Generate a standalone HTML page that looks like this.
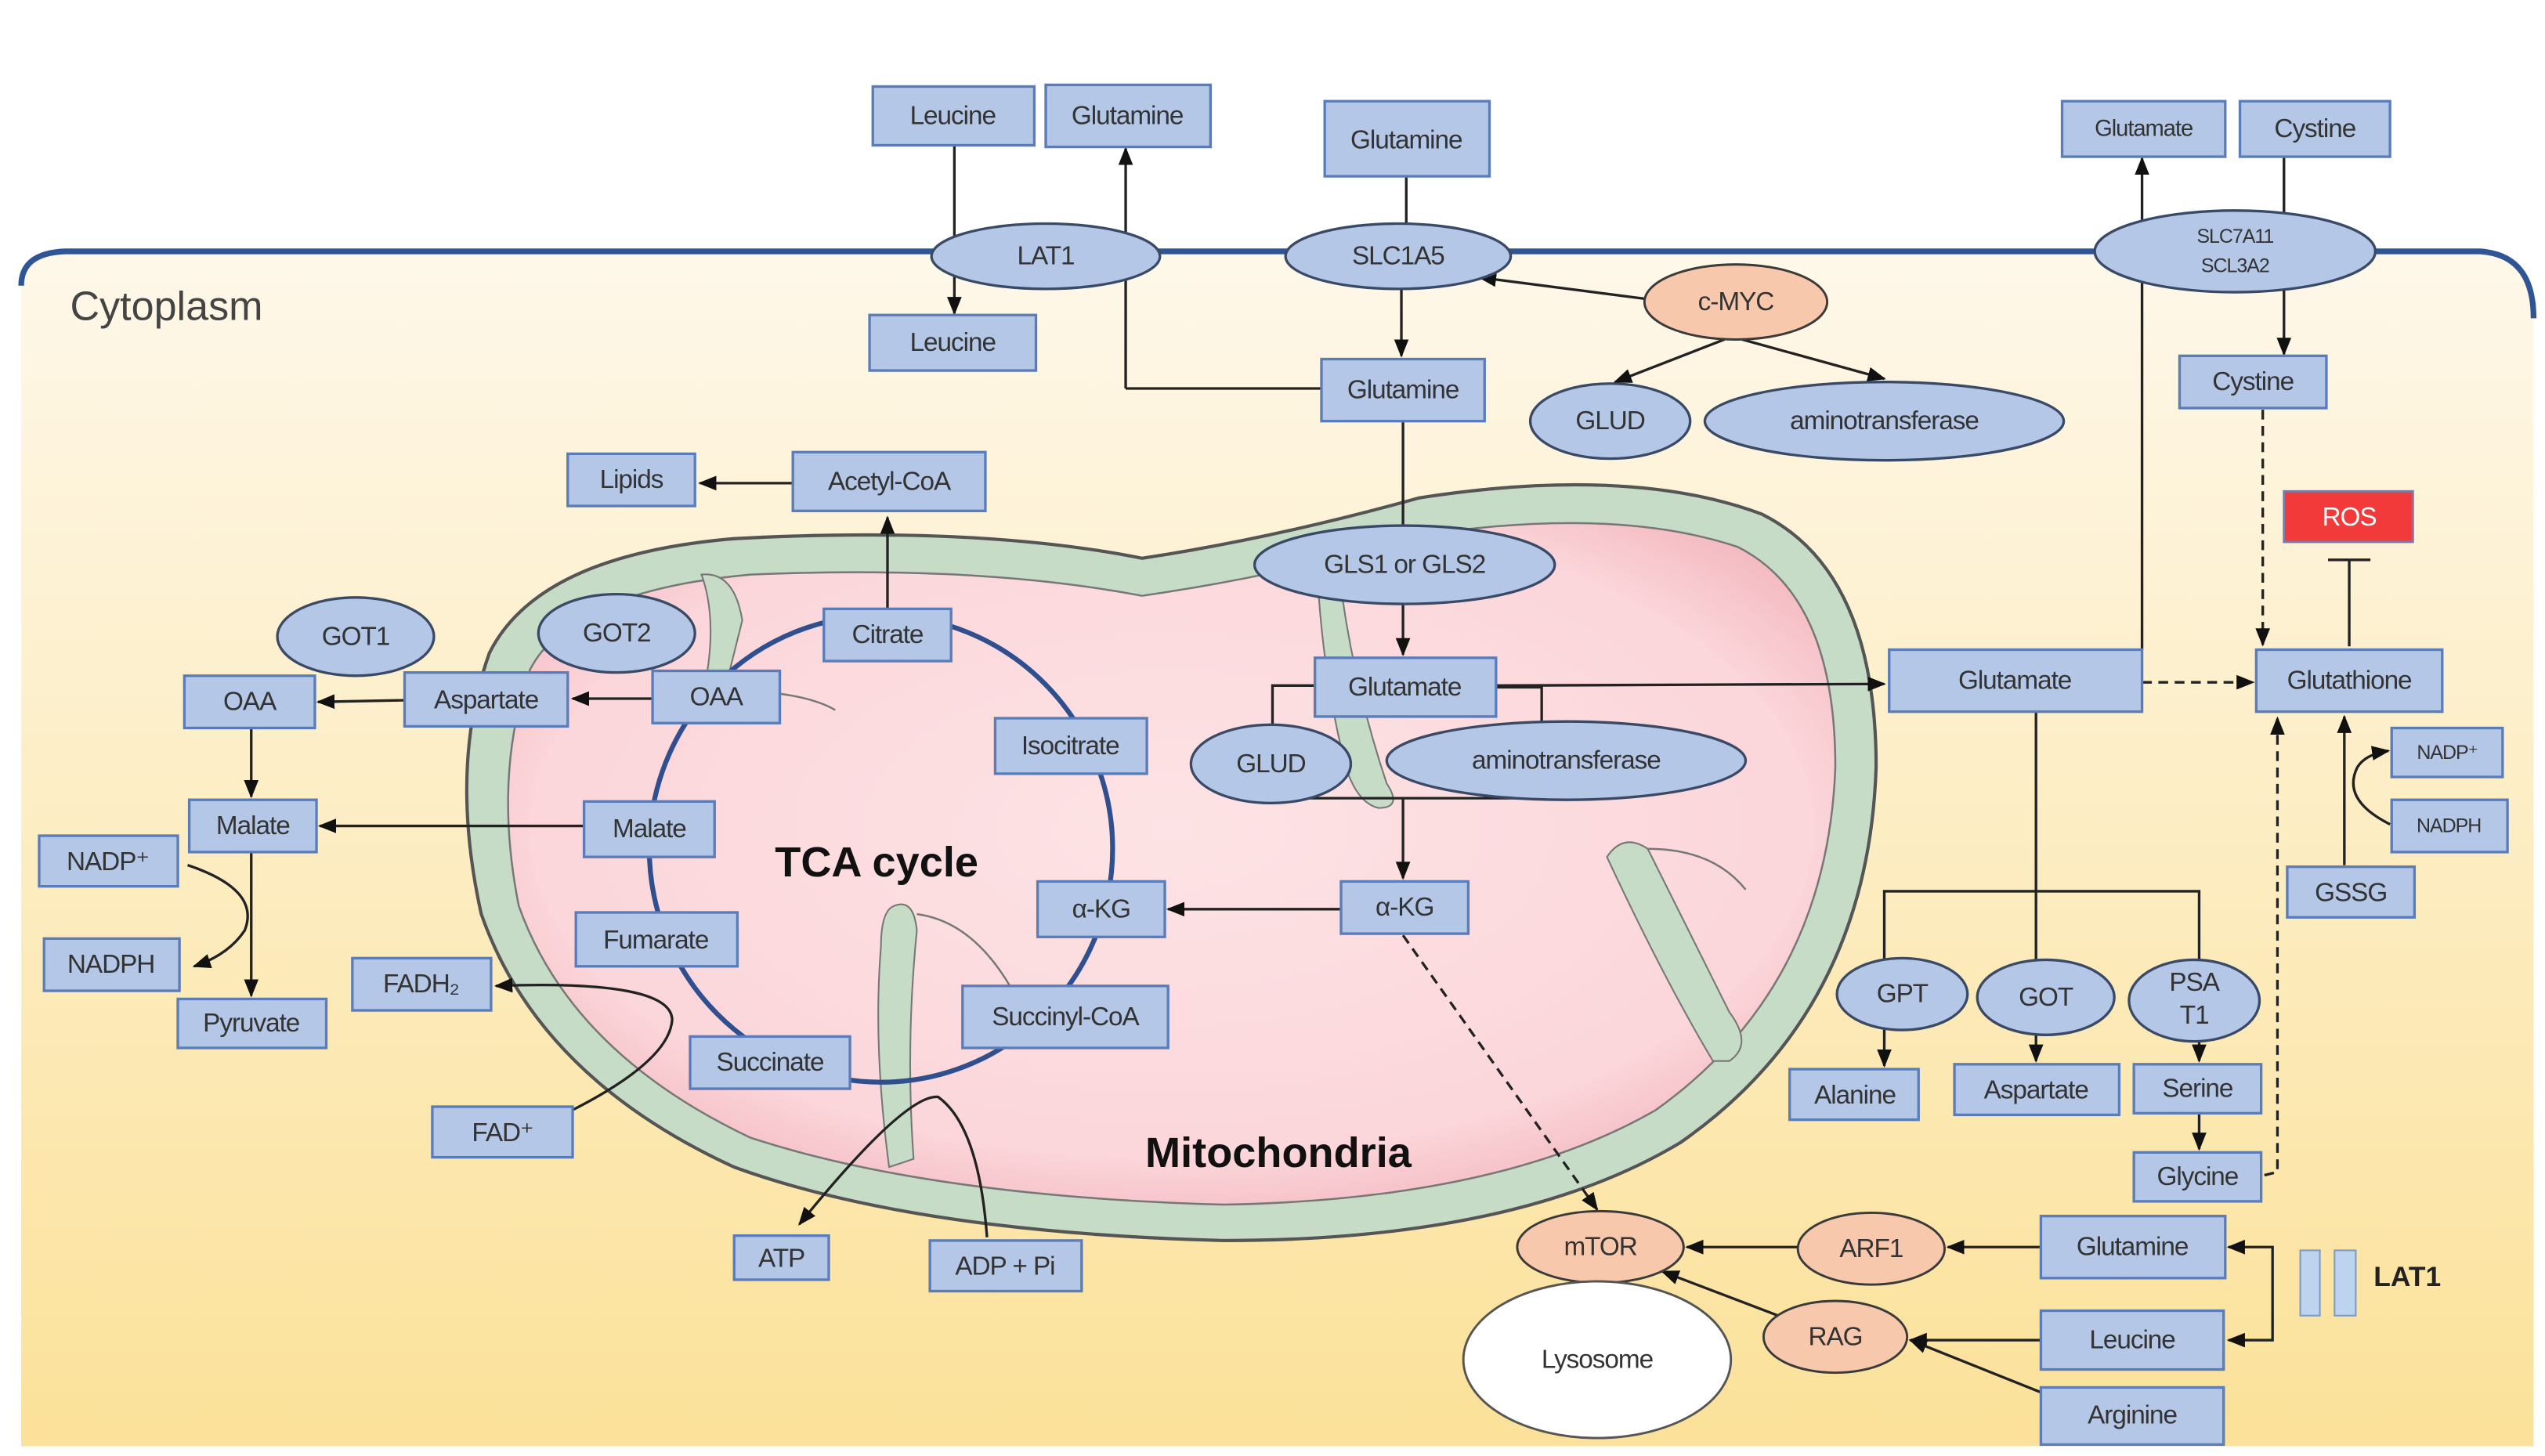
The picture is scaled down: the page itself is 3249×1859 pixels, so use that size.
<!DOCTYPE html>
<html><head><meta charset="utf-8"><style>
html,body{margin:0;padding:0;background:#fff;}
svg{display:block;}
text{font-family:"Liberation Sans","DejaVu Sans",sans-serif;fill:#333;}
.b{fill:#b4c7e7;stroke:#5a7cb8;stroke-width:1.6;}
.e{fill:#b4c7e7;stroke:#3a4a66;stroke-width:1.6;}
.p{fill:#f8c8ad;stroke:#3a3a3a;stroke-width:1.4;}
.l{stroke:#222;stroke-width:1.6;fill:none;}
.d{stroke:#222;stroke-width:1.6;fill:none;stroke-dasharray:6 4;}
.t{font-size:16px;text-anchor:middle;dominant-baseline:central;letter-spacing:-0.5px;}
</style></head><body>
<svg width="3249" height="1859" viewBox="0 0 1560 892" preserveAspectRatio="none" xmlns="http://www.w3.org/2000/svg">
<defs>
<linearGradient id="cy" x1="0" y1="0" x2="0" y2="1"><stop offset="0" stop-color="#fef8ea"/><stop offset="1" stop-color="#fbe199"/></linearGradient>
<radialGradient id="pk" cx="0.5" cy="0.45" r="0.6"><stop offset="0" stop-color="#fde3e5"/><stop offset="0.8" stop-color="#fbd6da"/><stop offset="1" stop-color="#f3b9c0"/></radialGradient>
<marker id="a" viewBox="0 0 10 10" refX="9" refY="5" markerWidth="7" markerHeight="7" orient="auto-start-reverse"><path d="M0,1 L10,5 L0,9 z" fill="#111"/></marker>
</defs>
<!-- cytoplasm -->
<path d="M13,175 Q13,155 40,154 L1520,154 Q1553,156 1553,195 L1553,886 L13,886 Z" fill="url(#cy)"/>
<path d="M13,175 Q13,155 40,154 L1520,154 Q1553,156 1553,195" fill="none" stroke="#2f5597" stroke-width="3.5"/>
<text x="43" y="196" style="font-size:25px;fill:#444">Cytoplasm</text>
<!-- mitochondria -->
<path d="M300,400 Q330,340 450,330 Q600,322 700,342 Q780,330 870,305 Q1000,285 1080,315 Q1150,350 1150,470 Q1145,620 1030,700 Q930,760 750,760 Q560,755 450,715 Q330,660 295,560 Q275,470 300,400 Z" fill="#c6dcc6" stroke="#555" stroke-width="2"/>
<path d="M325,410 Q350,362 460,352 Q600,346 700,365 Q790,352 870,328 Q990,310 1065,335 Q1125,365 1125,470 Q1120,605 1015,680 Q920,735 750,738 Q570,733 460,697 Q350,645 318,555 Q302,475 325,410 Z" fill="url(#pk)" stroke="#777" stroke-width="1.2"/>
<!-- cristae -->
<path d="M430,352 Q450,350 455,380 L445,420 L432,420 Q440,380 430,352 Z" fill="#c6dcc6" stroke="#777"/>
<path d="M808,360 L822,360 Q830,420 850,480 Q860,495 845,495 Q832,492 825,470 Q812,420 808,360 Z" fill="#c6dcc6" stroke="#777"/>
<path d="M548,555 Q560,550 562,570 Q555,640 560,710 L545,715 Q535,640 540,580 Q540,558 548,555 Z" fill="#c6dcc6" stroke="#777"/>
<path d="M562,560 Q600,565 625,615" fill="none" stroke="#777" stroke-width="1.2"/>
<path d="M985,525 Q995,510 1010,520 Q1040,580 1060,620 Q1075,640 1060,650 L1050,650 Q1020,600 985,525 Z" fill="#c6dcc6" stroke="#777"/>
<path d="M1010,520 Q1050,520 1070,545" fill="none" stroke="#777" stroke-width="1.2"/>
<path d="M478,425 Q500,428 512,435" fill="none" stroke="#777" stroke-width="1.2"/>
<!-- TCA circle -->
<ellipse cx="540" cy="520" rx="142" ry="143" fill="none" stroke="#2f4f8f" stroke-width="3"/>
<text x="475" y="537" style="font-size:26px;font-weight:bold;fill:#111">TCA cycle</text>
<text x="702" y="715" style="font-size:26px;font-weight:bold;fill:#111">Mitochondria</text>
<!-- connectors -->
<g>
<line class="l" x1="585" y1="89" x2="585" y2="192" marker-end="url(#a)"/>
<line class="l" x1="690" y1="238" x2="690" y2="91" marker-end="url(#a)"/>
<line class="l" x1="690" y1="238" x2="810" y2="238"/>
<line class="l" x1="862" y1="108" x2="862" y2="140"/>
<line class="l" x1="859" y1="177" x2="859" y2="218" marker-end="url(#a)"/>
<line class="l" x1="1008" y1="183" x2="907" y2="170" marker-end="url(#a)"/>
<line class="l" x1="1057" y1="208" x2="990" y2="234" marker-end="url(#a)"/>
<line class="l" x1="1068" y1="208" x2="1155" y2="232" marker-end="url(#a)"/>
<line class="l" x1="860" y1="258" x2="860" y2="322"/>
<line class="l" x1="860" y1="370" x2="860" y2="401" marker-end="url(#a)"/>
<line class="l" x1="917" y1="420" x2="1155" y2="419" marker-end="url(#a)"/>
<polyline class="l" points="806,420 780,420 780,444"/>
<polyline class="l" points="917,421 945,421 945,444"/>
<line class="l" x1="790" y1="489" x2="945" y2="489"/>
<line class="l" x1="860" y1="489" x2="860" y2="538" marker-end="url(#a)"/>
<line class="l" x1="822" y1="557" x2="716" y2="557" marker-end="url(#a)"/>
<line class="d" x1="860" y1="573" x2="979" y2="741" marker-end="url(#a)"/>
<line class="l" x1="544" y1="373" x2="544" y2="317" marker-end="url(#a)"/>
<line class="l" x1="486" y1="296" x2="429" y2="296" marker-end="url(#a)"/>
<line class="l" x1="400" y1="428" x2="351" y2="428" marker-end="url(#a)"/>
<line class="l" x1="248" y1="429" x2="195" y2="430" marker-end="url(#a)"/>
<line class="l" x1="154" y1="446" x2="154" y2="488" marker-end="url(#a)"/>
<line class="l" x1="358" y1="506" x2="196" y2="506" marker-end="url(#a)"/>
<line class="l" x1="154" y1="522" x2="154" y2="610" marker-end="url(#a)"/>
<path class="l" d="M115,530 Q160,545 150,570 Q140,585 119,592" marker-end="url(#a)"/>
<path class="l" d="M351,680 Q410,650 412,625 Q412,600 304,604" marker-end="url(#a)"/>
<path class="l" d="M605,758 Q600,690 575,672 Q555,670 490,750" marker-end="url(#a)"/>
<line class="l" x1="1313" y1="398" x2="1313" y2="97" marker-end="url(#a)"/>
<line class="l" x1="1400" y1="96" x2="1400" y2="217" marker-end="url(#a)"/>
<line class="d" x1="1387" y1="251" x2="1387" y2="395" marker-end="url(#a)"/>
<line class="d" x1="1313" y1="418" x2="1381" y2="418" marker-end="url(#a)"/>
<line class="l" x1="1440" y1="396" x2="1440" y2="343"/>
<line class="l" x1="1427" y1="343" x2="1453" y2="343"/>
<line class="l" x1="1437" y1="530" x2="1437" y2="439" marker-end="url(#a)"/>
<path class="l" d="M1465,505 Q1435,490 1445,470 Q1450,462 1464,460" marker-end="url(#a)"/>
<polyline class="d" points="1388,720 1396,718 1396,440" marker-end="url(#a)"/>
<line class="l" x1="1248" y1="436" x2="1248" y2="546"/>
<polyline class="l" points="1155,590 1155,546 1348,546 1348,590"/>
<line class="l" x1="1248" y1="546" x2="1248" y2="590"/>
<line class="l" x1="1155" y1="630" x2="1155" y2="653" marker-end="url(#a)"/>
<line class="l" x1="1248" y1="634" x2="1248" y2="650" marker-end="url(#a)"/>
<line class="l" x1="1348" y1="636" x2="1348" y2="650" marker-end="url(#a)"/>
<line class="l" x1="1348" y1="682" x2="1348" y2="704" marker-end="url(#a)"/>
<line class="l" x1="1251" y1="764" x2="1194" y2="764" marker-end="url(#a)"/>
<line class="l" x1="1102" y1="764" x2="1034" y2="764" marker-end="url(#a)"/>
<line class="l" x1="1251" y1="821" x2="1171" y2="821" marker-end="url(#a)"/>
<line class="l" x1="1251" y1="853" x2="1171" y2="821" marker-end="url(#a)"/>
<line class="l" x1="1090" y1="806" x2="1019" y2="779" marker-end="url(#a)"/>
<polyline class="l" points="1366,764 1393,764 1393,821 1366,821" marker-start="url(#a)" marker-end="url(#a)"/>
</g>
<!-- ellipses -->
<ellipse class="e" cx="641" cy="157" rx="70" ry="20"/><text class="t" x="641" y="157">LAT1</text>
<ellipse class="e" cx="857" cy="157" rx="69" ry="20"/><text class="t" x="857" y="157">SLC1A5</text>
<ellipse class="e" cx="1370" cy="154" rx="86" ry="25"/><text class="t" x="1370" y="145" style="font-size:12px">SLC7A11</text><text class="t" x="1370" y="163" style="font-size:12px">SCL3A2</text>
<ellipse class="p" cx="1064" cy="185" rx="56" ry="23"/><text class="t" x="1064" y="185">c-MYC</text>
<ellipse class="e" cx="987" cy="258" rx="49" ry="23"/><text class="t" x="987" y="258">GLUD</text>
<ellipse class="e" cx="1155" cy="258" rx="110" ry="24"/><text class="t" x="1155" y="258">aminotransferase</text>
<ellipse class="e" cx="861" cy="346" rx="92" ry="24"/><text class="t" x="861" y="346">GLS1 or GLS2</text>
<ellipse class="e" cx="218" cy="390" rx="48" ry="24"/><text class="t" x="218" y="390">GOT1</text>
<ellipse class="e" cx="378" cy="388" rx="48" ry="24"/><text class="t" x="378" y="388">GOT2</text>
<ellipse class="e" cx="779" cy="468" rx="49" ry="24"/><text class="t" x="779" y="468">GLUD</text>
<ellipse class="e" cx="960" cy="466" rx="110" ry="24"/><text class="t" x="960" y="466">aminotransferase</text>
<ellipse class="e" cx="1166" cy="609" rx="40" ry="22"/><text class="t" x="1166" y="609">GPT</text>
<ellipse class="e" cx="1254" cy="611" rx="42" ry="23"/><text class="t" x="1254" y="611">GOT</text>
<ellipse class="e" cx="1345" cy="613" rx="40" ry="25"/><text class="t" x="1345" y="602">PSA</text><text class="t" x="1345" y="622">T1</text>
<ellipse class="p" cx="981" cy="764" rx="51" ry="22"/><text class="t" x="981" y="764">mTOR</text>
<ellipse class="p" cx="1147" cy="765" rx="45" ry="22"/><text class="t" x="1147" y="765">ARF1</text>
<ellipse class="p" cx="1125" cy="819" rx="44" ry="22"/><text class="t" x="1125" y="819">RAG</text>
<ellipse cx="979" cy="833" rx="82" ry="48" fill="#fff" stroke="#555" stroke-width="1.4"/><text class="t" x="979" y="833">Lysosome</text>
<!-- boxes -->
<g>
<rect class="b" x="535" y="53" width="99" height="36"/><text class="t" x="584" y="71">Leucine</text>
<rect class="b" x="641" y="52" width="101" height="38"/><text class="t" x="691" y="71">Glutamine</text>
<rect class="b" x="812" y="62" width="101" height="46"/><text class="t" x="862" y="86">Glutamine</text>
<rect class="b" x="533" y="193" width="102" height="34"/><text class="t" x="584" y="210">Leucine</text>
<rect class="b" x="810" y="220" width="100" height="38"/><text class="t" x="860" y="239">Glutamine</text>
<rect class="b" x="1264" y="62" width="100" height="34"/><text class="t" x="1314" y="79" style="font-size:14px">Glutamate</text>
<rect class="b" x="1373" y="62" width="92" height="34"/><text class="t" x="1419" y="79">Cystine</text>
<rect class="b" x="1336" y="218" width="90" height="32"/><text class="t" x="1381" y="234">Cystine</text>
<rect class="b" x="348" y="278" width="78" height="32"/><text class="t" x="387" y="294">Lipids</text>
<rect class="b" x="486" y="277" width="118" height="36"/><text class="t" x="545" y="295">Acetyl-CoA</text>
<rect x="1400" y="301" width="79" height="31" fill="#f23a3a" stroke="#7a7aa8" stroke-width="1.4"/><text class="t" x="1440" y="317" style="fill:#fff">ROS</text>
<rect class="b" x="505" y="373" width="78" height="32"/><text class="t" x="544" y="389">Citrate</text>
<rect class="b" x="400" y="411" width="78" height="32"/><text class="t" x="439" y="427">OAA</text>
<rect class="b" x="248" y="412" width="100" height="33"/><text class="t" x="298" y="429">Aspartate</text>
<rect class="b" x="113" y="414" width="80" height="32"/><text class="t" x="153" y="430">OAA</text>
<rect class="b" x="610" y="440" width="93" height="34"/><text class="t" x="656" y="457">Isocitrate</text>
<rect class="b" x="806" y="403" width="111" height="36"/><text class="t" x="861" y="421">Glutamate</text>
<rect class="b" x="1158" y="398" width="155" height="38"/><text class="t" x="1235" y="417">Glutamate</text>
<rect class="b" x="1383" y="398" width="114" height="38"/><text class="t" x="1440" y="417">Glutathione</text>
<rect class="b" x="116" y="490" width="78" height="32"/><text class="t" x="155" y="506">Malate</text>
<rect class="b" x="358" y="491" width="80" height="34"/><text class="t" x="398" y="508">Malate</text>
<rect class="b" x="24" y="512" width="85" height="31"/><text class="t" x="66" y="528">NADP⁺</text>
<rect class="b" x="1466" y="446" width="68" height="30"/><text class="t" x="1500" y="461" style="font-size:12px">NADP⁺</text>
<rect class="b" x="1466" y="490" width="71" height="32"/><text class="t" x="1501" y="506" style="font-size:12px">NADPH</text>
<rect class="b" x="1402" y="531" width="78" height="31"/><text class="t" x="1441" y="547">GSSG</text>
<rect class="b" x="636" y="540" width="78" height="34"/><text class="t" x="675" y="557">α-KG</text>
<rect class="b" x="822" y="540" width="78" height="32"/><text class="t" x="861" y="556">α-KG</text>
<rect class="b" x="353" y="559" width="99" height="33"/><text class="t" x="402" y="576">Fumarate</text>
<rect class="b" x="27" y="575" width="83" height="32"/><text class="t" x="68" y="591">NADPH</text>
<rect class="b" x="216" y="587" width="85" height="32"/><text class="t" x="258" y="603">FADH₂</text>
<rect class="b" x="109" y="612" width="91" height="30"/><text class="t" x="154" y="627">Pyruvate</text>
<rect class="b" x="590" y="604" width="126" height="38"/><text class="t" x="653" y="623">Succinyl-CoA</text>
<rect class="b" x="423" y="635" width="98" height="32"/><text class="t" x="472" y="651">Succinate</text>
<rect class="b" x="1097" y="655" width="79" height="31"/><text class="t" x="1137" y="671">Alanine</text>
<rect class="b" x="1198" y="652" width="101" height="31"/><text class="t" x="1248" y="668">Aspartate</text>
<rect class="b" x="1308" y="652" width="78" height="30"/><text class="t" x="1347" y="667">Serine</text>
<rect class="b" x="265" y="678" width="86" height="31"/><text class="t" x="308" y="694">FAD⁺</text>
<rect class="b" x="1308" y="706" width="78" height="30"/><text class="t" x="1347" y="721">Glycine</text>
<rect class="b" x="1251" y="745" width="113" height="38"/><text class="t" x="1307" y="764">Glutamine</text>
<rect class="b" x="450" y="757" width="58" height="27"/><text class="t" x="479" y="771">ATP</text>
<rect class="b" x="570" y="760" width="93" height="31"/><text class="t" x="616" y="776">ADP + Pi</text>
<rect class="b" x="1251" y="803" width="112" height="36"/><text class="t" x="1307" y="821">Leucine</text>
<rect class="b" x="1251" y="850" width="112" height="35"/><text class="t" x="1307" y="867">Arginine</text>
</g>
<rect x="1410" y="766" width="12" height="40" fill="#bdd3ee" stroke="#7a9ac8"/>
<rect x="1431" y="766" width="13" height="40" fill="#bdd3ee" stroke="#7a9ac8"/>
<text x="1455" y="788" style="font-size:17px;font-weight:bold;fill:#222">LAT1</text>
</svg>
</body></html>
